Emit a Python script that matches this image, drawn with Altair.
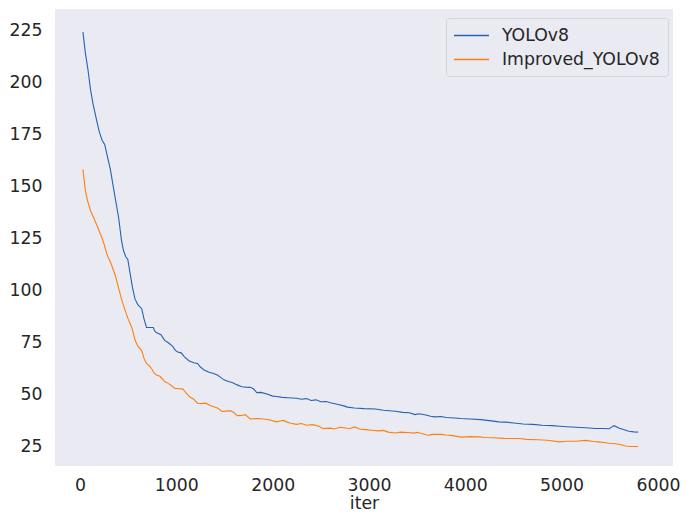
import altair as alt
import pandas as pd

# ---- data ----
yolo_iter = [30, 55, 82, 110, 137, 170, 200, 229, 256, 285, 315, 340, 366, 400, 430, 451, 475, 496,
             520, 545, 571, 600, 640, 665, 690, 730, 760, 780, 803, 840, 879, 920, 960, 990, 1015,
             1050, 1084, 1130, 1180, 1220, 1250, 1289, 1340, 1380, 1426, 1460, 1494, 1540, 1580,
             1631, 1680, 1720, 1767, 1800, 1836, 1880, 1940, 2000, 2041, 2100, 2160, 2246, 2300,
             2350, 2400, 2450, 2500, 2554, 2600, 2680, 2740, 2776, 2850, 2950, 3067, 3150, 3272,
             3350, 3420, 3477, 3520, 3580, 3640, 3682, 3750, 3800, 3887, 3950, 4050, 4161, 4250,
             4350, 4420, 4503, 4600, 4700, 4800, 4900, 4981, 5050, 5150, 5250, 5350, 5430, 5494,
             5545, 5600, 5650, 5699, 5750, 5795]
yolo_val = [224, 214, 206, 196, 189, 182, 176, 172, 170, 164, 158, 151, 144, 135, 124, 119, 116, 114.7,
            108, 101, 95.6, 93, 91, 86, 82, 82, 82, 80, 79.3, 78.5, 75.8, 74.5, 73, 71, 70.2,
            69.8, 67.9, 66, 65, 64.7, 63, 61.5, 60.5, 60, 59.1, 58, 56.8, 56, 55.5,
            54.4, 53.5, 53.3, 53.2, 52.5, 50.7, 50.8, 50, 49, 48.8, 48.4, 48.2, 48, 47.5,
            47.8, 46.9, 47.2, 46.3, 46.4, 45.8, 45, 44.3, 43.7, 43.3, 43, 42.8, 42.2, 41.7,
            41.2, 41, 40.1, 40.5, 40, 39.3, 39, 39.2, 38.7, 38.5, 38.2, 38, 37.7, 37.2,
            36.6, 36.5, 36.1, 35.6, 35.4, 35, 34.8, 34.5, 34.3, 34, 33.8, 33.4, 33.4, 33.3,
            34.8, 33.5, 32.8, 32.1, 31.8, 31.7]

impr_iter = [30, 55, 75, 110, 144, 180, 220, 250, 280, 320, 366, 400, 434, 470, 500, 537, 571, 600,
             640, 665, 690, 720, 742, 770, 793, 830, 879, 920, 950, 981, 1020, 1067, 1100, 1135,
             1180, 1220, 1260, 1306, 1350, 1426, 1477, 1520, 1562, 1600, 1631, 1680, 1716, 1767,
             1840, 1904, 1960, 2041, 2080, 2110, 2150, 2178, 2246, 2300, 2350, 2417, 2480, 2520,
             2600, 2640, 2700, 2759, 2800, 2850, 2900, 2960, 3032, 3100, 3150, 3200, 3272, 3330,
             3400, 3470, 3500, 3545, 3613, 3660, 3750, 3800, 3870, 3955, 4050, 4150, 4200, 4297,
             4400, 4500, 4560, 4639, 4750, 4850, 4981, 5050, 5150, 5254, 5330, 5400, 5494, 5560,
             5620, 5665, 5720, 5795]
impr_val = [158, 148, 143.5, 138, 134.5, 130.5, 126, 122, 117, 113, 107, 101, 95, 90, 86, 82, 76, 73,
            71, 67, 64.7, 63.5, 62.3, 60, 59.1, 58.5, 56, 55, 54, 52.8, 52.6, 52.5, 50.5, 48.8,
            47.5, 45.6, 45.4, 45.6, 44.5, 43.3, 41.6, 41.8, 42, 41, 39.6, 39.7, 40.1, 38,
            38.2, 38, 37.6, 36.6, 37, 37.3, 36.5, 36.1, 35.4, 35.8, 35, 35.3, 34.5, 33.4,
            33.6, 33.2, 34, 33.7, 33.3, 34.2, 33.2, 32.9, 32.6, 32.3, 32.5, 31.7, 31.3, 31.7,
            31.5, 31.2, 31.6, 31, 30.2, 30.6, 30.6, 30.3, 30, 29.3, 29.5, 29.4, 29.1, 29,
            28.7, 28.6, 28.6, 28.2, 28, 27.8, 27, 27.3, 27.3, 27.7, 27.2, 26.9, 26.3, 26.1,
            25.6, 25, 24.8, 24.8]

series_names = ["YOLOv8", "Improved_YOLOv8"]
series_colors = ["#2462b4", "#ff7f0e"]
x_ticks = [0, 1000, 2000, 3000, 4000, 5000, 6000]
y_ticks = [25, 50, 75, 100, 125, 150, 175, 200, 225]

df = pd.concat([
    pd.DataFrame({"iter": yolo_iter, "value": yolo_val, "model": series_names[0], "order": range(len(yolo_iter))}),
    pd.DataFrame({"iter": impr_iter, "value": impr_val, "model": series_names[1], "order": range(len(impr_iter))}),
])

FONT = "DejaVu Sans"
TXT = "#262626"
FS = 17.3

chart = alt.Chart(df).mark_line(strokeWidth=1.1).encode(
    x=alt.X("iter:Q", title="iter",
            scale=alt.Scale(domain=[-260, 6157], nice=False, zero=False),
            axis=alt.Axis(values=x_ticks, grid=False, domain=False, ticks=False,
                          labelPadding=10, titlePadding=1, format="d")),
    y=alt.Y("value:Q", title=None,
            scale=alt.Scale(domain=[15.4, 235.1], nice=False, zero=False),
            axis=alt.Axis(values=y_ticks, grid=False, domain=False, ticks=False,
                          labelPadding=13, format="d")),
    color=alt.Color("model:N", title=None,
                    scale=alt.Scale(domain=series_names, range=series_colors),
                    legend=alt.Legend(orient="none", legendX=391, legendY=9,
                                      symbolType="M-2,0H2", symbolSize=306, symbolStrokeWidth=1.5,
                                      symbolOffset=8, labelOffset=21, padding=8, rowPadding=6,
                                      fillColor="#EAEAF2", strokeColor="#d4d4d8", cornerRadius=3)),
    order="order:Q",
).properties(
    width=618, height=457,
    padding={"left": 47, "top": 1, "right": 8, "bottom": 48},
    autosize=alt.AutoSizeParams(type="none"),
).configure_view(
    fill="#EAEAF2", stroke=None
).configure_axis(
    labelFont=FONT, labelFontSize=FS, labelColor=TXT,
    titleFont=FONT, titleFontSize=FS, titleColor=TXT, titleFontWeight="normal",
).configure_legend(
    labelFont=FONT, labelFontSize=FS, labelColor=TXT,
)

chart.save("out.html", embed_options={"renderer": "svg", "actions": False})
